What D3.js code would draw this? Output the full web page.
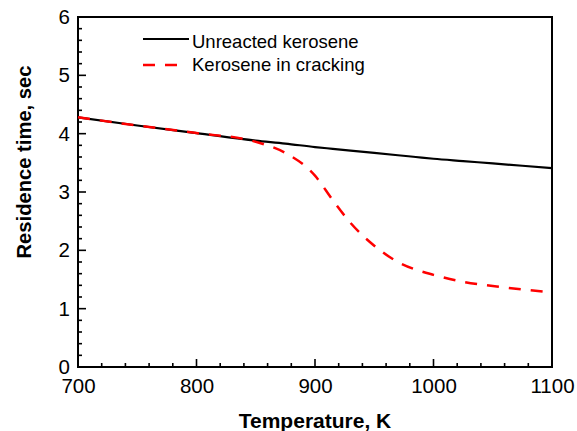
<!DOCTYPE html>
<html lang="en">
<head>
    <meta charset="UTF-8">
    <title>Residence time</title>
    <style>
        body { margin: 0; background: #fff; }
        text { font-family: "Liberation Sans", Arial, sans-serif; }
    </style>
</head>
<body>
<svg id="chart" width="577" height="431"></svg>
<script src="https://d3js.org/d3.v7.min.js"></script>

<script>
    /* global d3 */

    // temperatures, K
    let temps = [700, 750, 800, 850, 875, 900, 915, 930, 950, 970, 985, 1000, 1025, 1050, 1075, 1100];
    // unreacted kerosene, sec
    let unreacted = [4.28, 4.14, 4.01, 3.88, 3.83, 3.77, 3.74, 3.71, 3.67, 3.63, 3.60, 3.57, 3.53, 3.49, 3.45, 3.41];
    // kerosene in cracking, sec
    let cracking = [4.28, 4.14, 4.01, 3.86, 3.67, 3.28, 2.86, 2.47, 2.08, 1.80, 1.67, 1.58, 1.46, 1.39, 1.33, 1.28];

    let xTicks = [700, 800, 900, 1000, 1100];
    let yTicks = [0, 1, 2, 3, 4, 5, 6];
    let legendNames = ["Unreacted kerosene", "Kerosene in cracking"];

    let svg = d3.select("#chart"),
        pLeft = 78, pRight = 552, pTop = 17, pBottom = 367;

    let x = d3.scaleLinear().domain([700, 1100]).range([pLeft, pRight]),
        y = d3.scaleLinear().domain([0, 6]).range([pBottom, pTop]);

    // minor ticks every 20 K and 0.2 sec
    let xMinor = d3.range(720, 1100, 20).filter(v => v % 100 !== 0),
        yMinor = d3.range(1, 30).map(v => v / 5).filter(v => v % 1 !== 0);

    let ticks = svg.append("g").attr("stroke", "#000").attr("stroke-width", 1.6);

    ticks.selectAll("line.xmin").data(xMinor).enter().append("line")
        .attr("x1", d => x(d)).attr("x2", d => x(d))
        .attr("y1", pBottom).attr("y2", pBottom - 4);
    ticks.selectAll("line.xmaj").data(xTicks).enter().append("line")
        .attr("x1", d => x(d)).attr("x2", d => x(d))
        .attr("y1", pBottom).attr("y2", pBottom - 8);
    ticks.selectAll("line.ymin").data(yMinor).enter().append("line")
        .attr("y1", d => y(d)).attr("y2", d => y(d))
        .attr("x1", pLeft).attr("x2", pLeft + 4);
    ticks.selectAll("line.ymaj").data(yTicks).enter().append("line")
        .attr("y1", d => y(d)).attr("y2", d => y(d))
        .attr("x1", pLeft).attr("x2", pLeft + 8);

    // tick labels through d3 axes
    let xAxis = svg.append("g")
        .attr("transform", "translate(0," + pBottom + ")")
        .call(d3.axisBottom(x).tickValues(xTicks).tickSize(0).tickPadding(11).tickFormat(d3.format("d")));
    xAxis.select(".domain").remove();
    xAxis.selectAll("text").attr("font-size", 20.5).attr("fill", "#000")
        .style("font-family", "'Liberation Sans', Arial, sans-serif");

    let yAxis = svg.append("g")
        .attr("transform", "translate(" + pLeft + ",0)")
        .call(d3.axisLeft(y).tickValues(yTicks).tickSize(0).tickPadding(8).tickFormat(d3.format("d")));
    yAxis.select(".domain").remove();
    yAxis.selectAll("text").attr("font-size", 20.5).attr("fill", "#000")
        .style("font-family", "'Liberation Sans', Arial, sans-serif");

    // frame
    svg.append("rect")
        .attr("x", pLeft).attr("y", pTop)
        .attr("width", pRight - pLeft).attr("height", pBottom - pTop)
        .attr("fill", "none").attr("stroke", "#000").attr("stroke-width", 2);

    let line = d3.line().curve(d3.curveMonotoneX);

    svg.append("path")
        .datum(temps.map((t, i) => [x(t), y(unreacted[i])]))
        .attr("d", line)
        .attr("fill", "none").attr("stroke", "#000").attr("stroke-width", 2.2);

    svg.append("path")
        .datum(temps.map((t, i) => [x(t), y(cracking[i])]))
        .attr("d", line)
        .attr("fill", "none").attr("stroke", "#f00").attr("stroke-width", 2.5)
        .attr("stroke-dasharray", "12,10");

    // legend
    let legend = svg.append("g");
    legend.append("line")
        .attr("x1", 143).attr("x2", 189).attr("y1", 39).attr("y2", 39)
        .attr("stroke", "#000").attr("stroke-width", 2.2);
    legend.append("line")
        .attr("x1", 143).attr("x2", 178).attr("y1", 65).attr("y2", 65)
        .attr("stroke", "#f00").attr("stroke-width", 2.5)
        .attr("stroke-dasharray", "12,10");
    legend.selectAll("text.name")
        .data(legendNames)
        .enter().append("text")
        .attr("class", "name")
        .attr("x", 192)
        .attr("y", (d, i) => 41.5 + i * 23.5)
        .attr("dy", "0.35em")
        .attr("font-size", 18.5)
        .text(d => d);

    // axis titles
    svg.append("text")
        .attr("x", (pLeft + pRight) / 2).attr("y", 428)
        .attr("text-anchor", "middle")
        .attr("font-size", 21).attr("font-weight", "bold")
        .text("Temperature, K");

    svg.append("text")
        .attr("transform", "translate(31,162) rotate(-90)")
        .attr("text-anchor", "middle")
        .attr("font-size", 20.2).attr("font-weight", "bold")
        .text("Residence time, sec");
</script>
</body>
</html>
